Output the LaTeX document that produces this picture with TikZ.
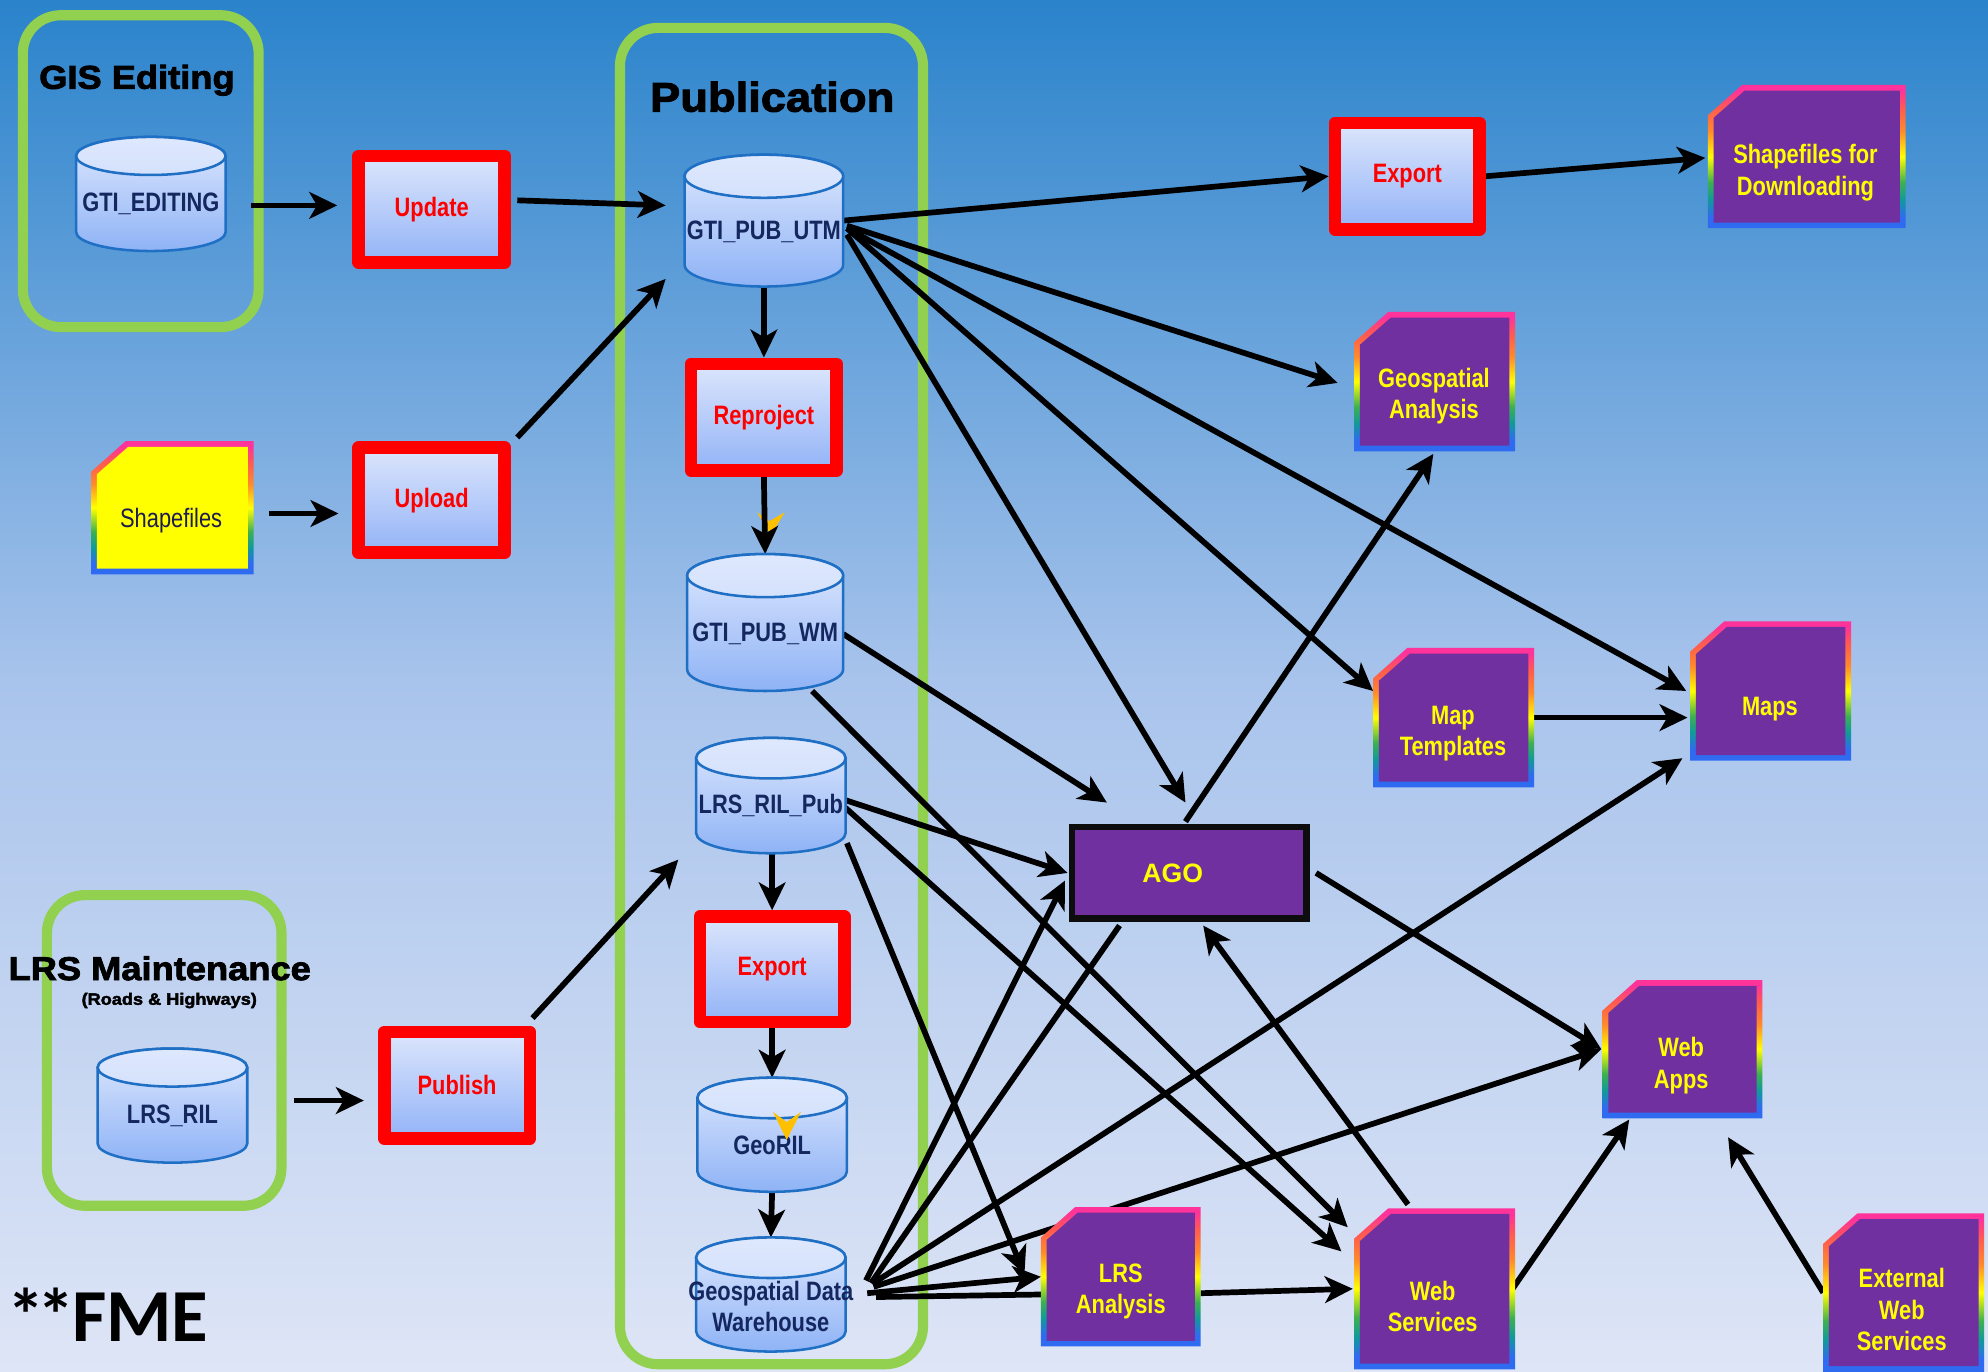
\documentclass[tikz,border=0pt]{standalone}
\usepackage{fontspec}
\setmainfont{Liberation Sans}
\newfontfamily\nb{Liberation Sans}[FakeStretch=0.82]
\newfontfamily\tf{Liberation Sans}[UprightFont={*/B}, FakeBold=2.5, FakeStretch=1.1]
\newfontfamily\fmefont{Carlito}
\usetikzlibrary{arrows.meta,calc}
\definecolor{bgTop}{HTML}{2A83CB}
\definecolor{bgMid}{HTML}{A9C4EC}
\definecolor{bgBot}{HTML}{DEE5F6}
\definecolor{grn}{HTML}{92D050}
\definecolor{cylTop}{HTML}{DEE8FD}
\definecolor{cylBot}{HTML}{8FB3F6}
\definecolor{cylLine}{HTML}{1F6FC5}
\definecolor{navy}{HTML}{14275E}
\definecolor{purp}{HTML}{7030A0}
\definecolor{ylw}{HTML}{FFFF00}
\definecolor{orng}{HTML}{FFC000}
\definecolor{procTop}{HTML}{DCE6FC}
\definecolor{procBot}{HTML}{93B3F7}
\definecolor{rbBlue}{HTML}{2F6BF0}
\definecolor{rbTeal}{HTML}{109A9A}
\definecolor{rbGreen}{HTML}{3DB050}
\definecolor{rbYellow}{HTML}{FFFF00}
\definecolor{rbOrange}{HTML}{FF8A2A}
\definecolor{rbCoral}{HTML}{FF5A50}
\definecolor{rbPink}{HTML}{FF3399}
\definecolor{shpText}{HTML}{1C1C50}
\pgfdeclareverticalshading{rainbowb}{100bp}{color(0bp)=(rbBlue); color(25bp)=(rbBlue); color(29bp)=(rbBlue); color(35bp)=(rbTeal); color(41bp)=(rbGreen); color(50bp)=(rbYellow); color(59bp)=(rbOrange); color(67bp)=(rbCoral); color(73bp)=(rbPink); color(100bp)=(rbPink)}
\pgfdeclarelayer{bg}
\pgfdeclarelayer{edges}
\pgfsetlayers{bg,edges,main}
% cylinder: name, x0, x1, top, bottom, ry
\newcommand\cylshape[6]{%
  \shadedraw[top color=cylTop, bottom color=cylBot, draw=cylLine, line width=2]
    (#2,{#4+#6}) -- (#2,{#5-#6})
    arc[start angle=180, end angle=360, x radius={(#3-#2)/2*1pt}, y radius={#6*1pt}]
    -- (#3,{#4+#6})
    arc[start angle=0, end angle=180, x radius={(#3-#2)/2*1pt}, y radius={#6*1pt}]
    -- cycle;
  \shadedraw[top color=cylTop, bottom color=cylTop!88!cylBot, draw=cylLine, line width=2]
    ({(#2+#3)/2},{#4+#6}) ellipse[x radius={(#3-#2)/2*1pt}, y radius={#6*1pt}];
  \node[anchorbox, minimum width={#3-#2}, minimum height={#5-#4}] (#1) at ({(#2+#3)/2},{(#4+#5)/2}) {};
}
% document shape: name, x0, y0, x1, y1, fill
\newcommand\docshape[6]{%
  \shade[shading=rainbowb] (#2,{#3+24}) -- ({#2+27},#3) -- (#4,#3) -- (#4,#5) -- (#2,#5) -- cycle;
  \fill[#6] ({#2+4.5},{#3+26}) -- ({#2+29},{#3+4.5}) -- ({#4-4.5},{#3+4.5}) -- ({#4-4.5},{#5-4.5}) -- ({#2+4.5},{#5-4.5}) -- cycle;
  \node[anchorbox, minimum width={#4-#2}, minimum height={#5-#3}] (#1) at ({(#2+#4)/2},{(#3+#5)/2}) {};
}
\begin{document}
\begin{tikzpicture}[x=1pt,y=-1pt,
  anchorbox/.style={shape=rectangle, inner sep=0pt, outer sep=0pt, draw=none},
  grnbox/.style={draw=grn, line width=8, rounded corners=30},
  ttl/.style={anchor=base, inner sep=0pt, text=black},
  cyltxt/.style={text=navy, font=\nb\bfseries\fontsize{21}{25}\selectfont, inner sep=0pt, align=center},
  proc/.style={draw=red, line width=10, line join=round, top color=procTop, bottom color=procBot, text=red, font=\nb\bfseries\fontsize{21}{25}\selectfont, inner sep=0pt},
  doctxt/.style={text=ylw, font=\nb\bfseries\fontsize{21}{25}\selectfont, inner sep=0pt, align=center},
  arr/.style={-{Stealth[length=22pt, width=21pt, inset=6pt]}, line width=4.5, draw=black},
  plainline/.style={line width=4.5, draw=black}]
\useasboundingbox (0,0) rectangle (1568,1082);
\begin{pgfonlayer}{bg}
  \shade[top color=bgTop, bottom color=bgBot, middle color=bgMid] (0,0) rectangle (1568,1082);
  \draw[grnbox] (18,12) rectangle (204,258);
  \draw[grnbox] (489,22) rectangle (728,1076);
  \draw[grnbox] (37,706) rectangle (222,951);
\end{pgfonlayer}

% titles
\node[ttl, font=\tf\fontsize{26}{30}\selectfont] (tgis) at (108,70) {GIS Editing};
\node[ttl, font=\tf\fontsize{32.5}{36}\selectfont] (tpub) at (609,88) {Publication};
\node[ttl, font=\tf\fontsize{26}{30}\selectfont] (tlrs) at (126,773) {LRS Maintenance};
\node[ttl, font=\tf\fontsize{13}{15}\selectfont] (troads) at (133.5,792.5) {(Roads \& Highways)};
\node[anchor=base west, inner sep=0pt, font=\fmefont\bfseries\fontsize{59}{64}\selectfont] (fme) at (6,1058) {*\kern-6pt*\kern-2ptFME};

% cylinders
\cylshape{edit}{60}{178}{108}{198}{15}
\node[cyltxt] (edit-t) at (119,160.5) {GTI\_EDITING};
\cylshape{utm}{540}{665}{122}{226}{17}
\node[cyltxt] (utm-t) at (602.5,183) {GTI\_PUB\_UTM};
\cylshape{wm}{542}{665}{437}{545}{17}
\node[cyltxt] (wm-t) at (603.5,500) {GTI\_PUB\_WM};
\cylshape{lrspub}{549}{667}{582}{673}{16}
\node[cyltxt] (lrspub-t) at (608,635.5) {LRS\_RIL\_Pub};
\cylshape{georil}{550}{668}{850}{940}{16}
\node[cyltxt] (georil-t) at (609,903) {GeoRIL};
\fill[orng] (609.6,877) -- (620.5,885) -- (631.7,877) -- (620.5,899) -- cycle;
\cylshape{gdw}{549}{667}{976}{1066}{16}
\node[cyltxt] (gdw-t) at (608,1030.5) {Geospatial Data\\Warehouse};
\cylshape{lrsril}{77}{195}{827}{917}{15}
\node[cyltxt] (lrsril-t) at (136,880) {LRS\_RIL};

% process boxes
\node[proc, minimum width=115, minimum height=84] (update) at (340.5,165) {Update};
\node[proc, minimum width=115, minimum height=83] (upload) at (340.5,394.5) {Upload};
\node[proc, minimum width=115, minimum height=84] (reproject) at (602.5,329) {Reproject};
\node[proc, minimum width=114, minimum height=83] (export1) at (609,764.5) {Export};
\node[proc, minimum width=115, minimum height=84] (publish) at (360.5,856) {Publish};
\node[proc, minimum width=114, minimum height=84] (export2) at (1110,139) {Export};

% AGO
\node[draw=black!95, line width=5, fill=purp, minimum width=185, minimum height=72, inner sep=0pt] (ago) at (938,688.5) {};
\node[text=ylw, font=\bfseries\fontsize{21}{25}\selectfont, inner sep=0pt] (ago-t) at (925,689) {AGO};

% document shapes
\docshape{shp}{72}{348}{200}{453}{ylw}
\node[inner sep=0pt, text=shpText, font=\nb\fontsize{21}{25}\selectfont] (shp-t) at (135,411) {Shapefiles};
\docshape{sfd}{1347}{67}{1503}{180}{purp}
\node[doctxt] (sfd-t) at (1424,136) {Shapefiles for\\Downloading};
\docshape{geo}{1068}{246}{1195}{356}{purp}
\node[doctxt] (geo-t) at (1131,312.5) {Geospatial\\Analysis};
\docshape{mapt}{1083}{511}{1210}{621}{purp}
\node[doctxt] (mapt-t) at (1146,578.5) {Map\\Templates};
\docshape{maps}{1333}{490}{1460}{600}{purp}
\node[doctxt] (maps-t) at (1396,559) {Maps};
\docshape{webapps}{1264}{773}{1390}{882}{purp}
\node[doctxt] (webapps-t) at (1326,840.5) {Web\\Apps};
\docshape{lrsa}{821}{952}{947}{1062}{purp}
\node[doctxt] (lrsa-t) at (884,1018.5) {LRS\\Analysis};
\docshape{websvc}{1068}{953}{1195}{1080}{purp}
\node[doctxt] (websvc-t) at (1130,1030.5) {Web\\Services};
\docshape{ext}{1438}{957}{1565}{1082}{purp}
\node[doctxt] (ext-t) at (1500,1033) {External\\Web\\Services};

% connectors
\begin{pgfonlayer}{edges}
  \fill[orng] (597,404) -- (607,411) -- (619,404) -- (608,422) -- cycle;
  \draw[arr] ($(edit.east)+(20,9)$) -- ($(update.west)+(-12,-3)$);
  \draw[arr] ($(update.east)+(5,-7)$) -- ($(utm.west)+(-15,-12)$);
  \draw[arr] ($(upload.north east)+(5,-3)$) -- ($(utm.south west)+(-15,-6)$);
  \draw[arr] ($(shp.east)+(12,4.5)$) -- ($(upload.west)+(-11,10.5)$);
  \draw[arr] (utm.south) -- (reproject.north);
  \draw[arr] (reproject.south) -- (wm.north);
  \draw[arr] (utm.east) -- (export2.west);
  \draw[arr] (export2.east) -- ($(sfd.west)+(-2,1)$);
  \draw[arr] ($(utm.east)+(3,4)$) -- ($(geo.west)+(-13,1)$);
  \draw[arr] ($(utm.east)+(3,6)$) -- ($(maps.west)+(-3,0)$);
  \draw[arr] ($(utm.east)+(3,6)$) -- ($(mapt.west)+(0,-21)$);
  \draw[arr] ($(utm.east)+(3,11)$) -- ($(ago.north)+(-3,-17)$);
  \draw[arr] ($(wm.east)+(0,9)$) -- ($(ago.north west)+(30,-17)$);
  \draw[arr] ($(wm.south)+(37,0)$) -- ($(websvc.north west)+(-5,15)$);
  \draw[arr] ($(lrspub.east)+(-2,3)$) -- ($(ago.west)+(-1,0)$);
  \draw[arr] ($(lrspub.east)+(-2,8)$) -- ($(websvc.north west)+(-10,34)$);
  \draw[arr] ($(lrspub.south east)+(1,-8)$) -- ($(lrsa.west)+(-13,-2)$);
  \draw[arr] (export1.north |- lrspub.south) -- (export1.north);
  \draw[arr] (export1.south) -- (georil.north);
  \draw[arr] (georil.south) -- (gdw.north);
  \draw[arr] ($(lrsril.east)+(37,-4)$) -- ($(publish.west)+(-11,12)$);
  \draw[arr] ($(publish.north east)+(-3,-6)$) -- ($(lrspub.south west)+(-14,5)$);
  \draw[arr] ($(gdw.east)+(16,-11)$) -- ($(ago.west)+(-3,6)$);
  \draw[plainline] ($(gdw.east)+(20,-9)$) -- ($(ago.south west)+(40,3)$);
  \draw[arr] ($(gdw.east)+(22,-9)$) -- ($(maps.south west)+(-6,-2)$);
  \draw[arr] ($(gdw.east)+(22,-6)$) -- ($(webapps.west)+(-1,0)$);
  \draw[arr] ($(gdw.east)+(17,-1)$) -- (lrsa.west);
  \draw[plainline] ($(gdw.east)+(24,2)$) -- ($(lrsa.west)+(0,14)$);
  \draw[arr] ($(lrsa.east)+(0,13)$) -- ($(websvc.west)+(-1,0)$);
  \draw[arr] ($(websvc.north)+(-21,-3)$) -- ($(ago.south)+(11,3)$);
  \draw[arr] ($(websvc.east)+(-2,0)$) -- ($(webapps.south west)+(21,1)$);
  \draw[arr] (ext.west) -- ($(webapps.south east)+(-27,15)$);
  \draw[arr] ($(ago.east)+(5,0)$) -- ($(webapps.west)+(-1,0)$);
  \draw[arr] ($(ago.north)+(-3,-2)$) -- ($(geo.south)+(-1,2)$);
  \draw[arr] (mapt.east) -- ($(maps.west)+(-2,21)$);
\end{pgfonlayer}
\end{tikzpicture}
\end{document}
